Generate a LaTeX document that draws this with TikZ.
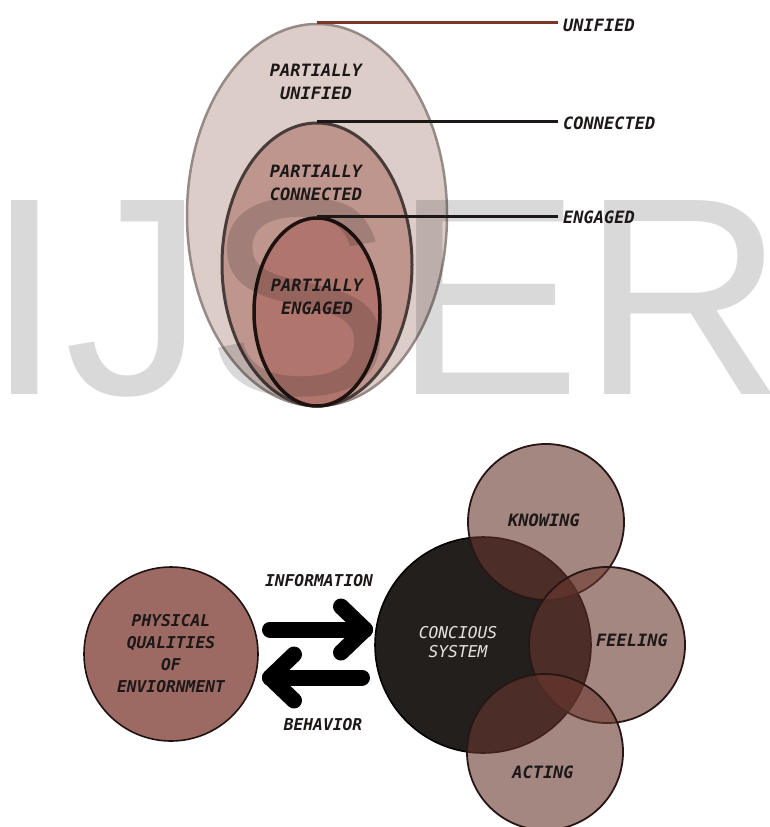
\documentclass[tikz,border=0pt]{standalone}
\usepackage{fontspec}
\newfontfamily\lblfont{DejaVu Sans Mono}
\newfontfamily\wmfont{Liberation Sans}
\usetikzlibrary{shapes.geometric,calc}

\definecolor{unifiedfill}{RGB}{221,205,200}
\definecolor{unifiededge}{RGB}{150,138,135}
\definecolor{connfill}{RGB}{190,150,142}
\definecolor{connedge}{RGB}{72,60,58}
\definecolor{engfill}{RGB}{176,118,110}
\definecolor{engedge}{RGB}{30,18,16}
\definecolor{unifiedline}{RGB}{125,55,40}
\definecolor{ink}{RGB}{28,24,24}
\definecolor{envfill}{RGB}{156,106,99}
\definecolor{sysfill}{RGB}{35,31,29}
\definecolor{facetfill}{RGB}{105,55,47}
\definecolor{facetedge}{RGB}{40,22,20}
\definecolor{systext}{RGB}{232,226,222}

\tikzset{
  tag/.style={font={\lblfont\bfseries\itshape\fontsize{17}{22.5}\selectfont},
    text=ink, align=center, inner sep=0pt},
  smalltag/.style={tag, font={\lblfont\bfseries\itshape\fontsize{16.3}{22}\selectfont}},
  sidetag/.style={tag, anchor=west, inner xsep=5pt},
  level/.style={ellipse, inner sep=0pt},
  leader/.style={line width=3.5pt, draw=ink},
  disc/.style={circle, inner sep=0pt},
  facet/.style={disc, minimum size=156pt, fill=facetfill, fill opacity=0.6,
    draw=facetedge, draw opacity=1, line width=1.8pt},
  fat/.style={line width=16pt, line cap=round, line join=round, draw=black},
  journalmark/.style={font={\wmfont\fontsize{282}{282}\selectfont}, text=black,
    text opacity=0.15, inner sep=0pt, anchor=base west}
}

\begin{document}
\begin{tikzpicture}[x=1pt, y=-1pt]
\useasboundingbox (0,0) rectangle (769,827);
\fill[white] (0,0) rectangle (769,827);

% nested levels of unity
\node[level, minimum width=260pt, minimum height=382pt, fill=unifiedfill,
      draw=unifiededge, line width=2.5pt] (unified) at (317,215) {};
\node[level, minimum width=190pt, minimum height=283pt, fill=connfill,
      draw=connedge, line width=3pt] (connected) at (317,264.5) {};
\node[level, minimum width=126pt, minimum height=188pt, fill=engfill,
      draw=engedge, line width=3.5pt] (engaged) at (317,312) {};

% journal mark
\node[journalmark] (journal) at (-14.5,394) {IJSER};

% level names on the right
\node[sidetag] (tU) at (558,25) {UNIFIED};
\node[sidetag] (tC) at (558,123) {CONNECTED};
\node[sidetag] (tE) at (558,217) {ENGAGED};
\draw[leader, draw=unifiedline, line width=3pt] (unified.north) -- (unified.north -| tU.west);
\draw[leader] (connected.north) -- (connected.north -| tC.west);
\draw[leader] (engaged.north) -- (engaged.north -| tE.west);

% texts inside the levels
\node[tag] (pU) at (316,82) {PARTIALLY\\UNIFIED};
\node[tag] (pC) at (316,183) {PARTIALLY\\CONNECTED};
\node[tag] (pE) at (317,297) {PARTIALLY\\ENGAGED};

% environment and conscious system
\node[disc, minimum size=174pt, fill=envfill, draw=engedge, line width=1.6pt] (env) at (171,654) {};
\node[disc, minimum size=216pt, fill=sysfill, draw=black, line width=1.6pt] (sys) at (483,645) {};
\node[facet] (know) at (546,522) {};
\node[facet] (feel) at (607,645) {};
\node[facet] (act) at (545,752) {};

\node[smalltag] (envtext) at (env) {PHYSICAL\\QUALITIES\\OF\\ENVIORNMENT};
\node[smalltag, font={\lblfont\itshape\fontsize{16.3}{18.5}\selectfont}, text=systext] (systext) at (458,642) {CONCIOUS\\SYSTEM};
\node[tag] (knowtext) at (544,520) {KNOWING};
\node[tag] (feeltext) at (632,640) {FEELING};
\node[tag] (acttext) at (543,772) {ACTING};

% exchange arrows
\coordinate (inTail) at (270,629.5);
\coordinate (inHead) at (365,629.5);
\coordinate (outTail) at (362,677.5);
\coordinate (outHead) at (270,677.5);
\draw[fat] (inTail) -- (inHead);
\draw[fat] ($(inHead)+(-24,-23)$) -- (inHead) -- ($(inHead)+(-24,23)$);
\draw[fat] (outTail) -- (outHead);
\draw[fat] ($(outHead)+(24,-23)$) -- (outHead) -- ($(outHead)+(24,23)$);

\node[smalltag] (info) at (319,581) {INFORMATION};
\node[smalltag] (behav) at (323,725) {BEHAVIOR};
\end{tikzpicture}
\end{document}
